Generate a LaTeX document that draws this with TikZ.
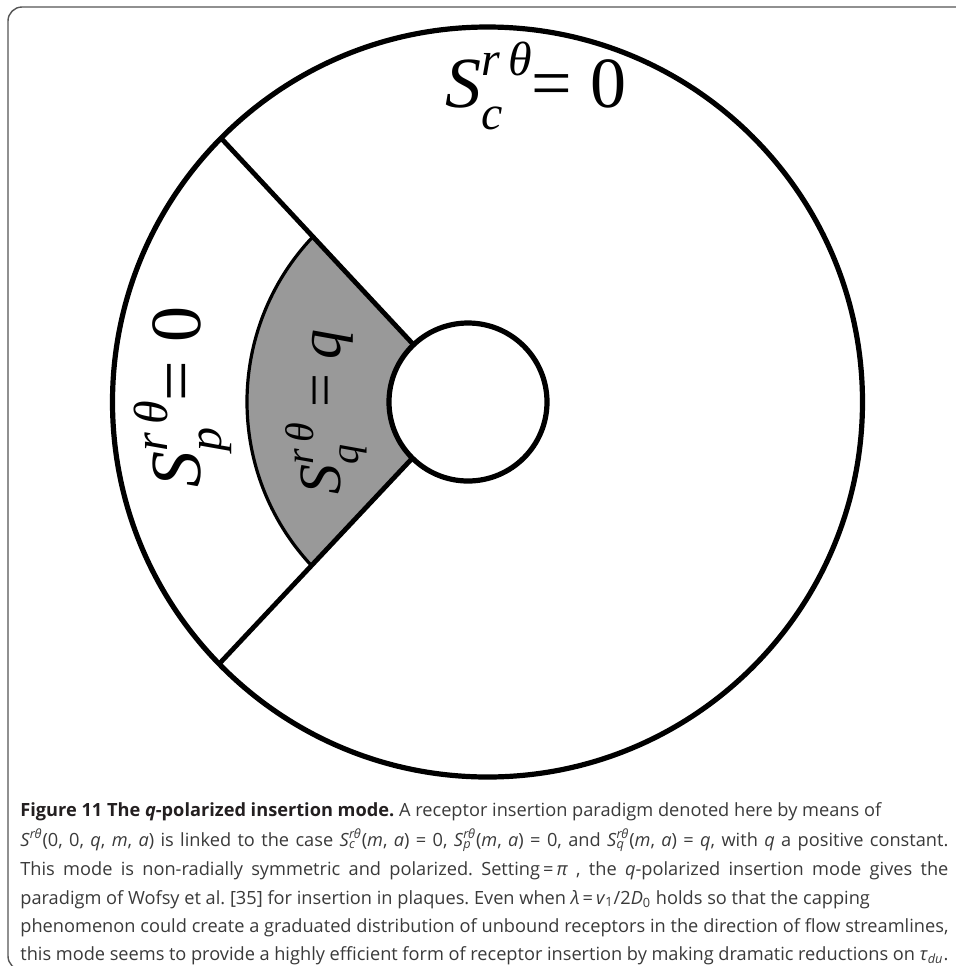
\documentclass[tikz,border=0pt]{standalone}
\usepackage{fontspec}
\setmainfont{Open Sans}
\newfontfamily\tms{Liberation Serif}
\frenchspacing
\definecolor{capgray}{HTML}{3A3A3A}
\definecolor{capdark}{HTML}{231F20}
\definecolor{fillgray}{HTML}{999999}
\definecolor{framegray}{HTML}{555555}
\newcommand\Srt[1]{\textit{S}\rlap{\textsubscript{\textit{#1}}}\textsuperscript{\textit{r}\kern-0.05em\textit{θ}}}
\newcommand\LabS[4]{{\fontsize{#1}{#1}\selectfont\tms{\itshape S}\rlap{\raisebox{-0.30em}{\fontsize{#2}{#2}\selectfont\itshape #3}}\raisebox{0.45em}{\fontsize{#2}{#2}\selectfont\itshape r\,θ}#4}}
\newcommand\Just[1]{\makebox[464pt][s]{#1}}
\begin{document}
\begin{tikzpicture}[x=0.5pt,y=0.5pt,
  ring/.style={line width=2.6pt},
  ray/.style={line width=2.4pt},
  capline/.style={anchor=base west,inner sep=0pt,text=capgray,font=\fontsize{9.1}{11}\selectfont},
  lab/.style={inner sep=0pt}]
\useasboundingbox (0,0) rectangle (956,-966);
\clip (0,0) rectangle (956,-966);
\fill[white] (0,0) rectangle (956,-966);
% frame
\draw[framegray,line width=0.7pt,rounded corners=7] (8,-7) rectangle (990,-970);
% gray sector
\fill[fillgray] (312.9,-236.7) arc[start angle=136.5,end angle=223,radius=240] -- (466,-401) -- cycle;
\draw[line width=1.6pt] (312.9,-236.7) arc[start angle=136.5,end angle=223,radius=240];
% rays
\coordinate (apex) at (466,-401);
\coordinate (tA) at (220,-137);
\coordinate (tB) at (220,-663);
\draw[ray] (tA) -- (apex);
\draw[ray] (tB) -- (apex);
% inner circle
\draw[ring,fill=white] (468,-402) circle[radius=79];
% outer circle
\draw[ring] (487.5,-402) circle[radius=375];
% labels
\node[lab] (lc) at (536,-86) {\LabS{36}{24}{c}{= 0}};
\node[lab,rotate=90] (lp) at (183,-397) {\LabS{36}{24}{p}{= 0}};
\node[lab,rotate=90] (lq) at (326,-412) {\LabS{30}{20}{q}{ = \textit{q}}};
% caption
\node[capline] (c1) at (20,-816) {{\color{capdark}\bfseries Figure 11 The \textit{q}-polarized insertion mode.} A receptor insertion paradigm denoted here by means of};
\node[capline] (c2) at (20,-846) {\Just{\Srt{}(0, 0, \textit{q}, \textit{m}, \textit{a}) is linked to the case \Srt{c}(\textit{m}, \textit{a}) = 0, \Srt{p}(\textit{m}, \textit{a}) = 0, and \Srt{q}(\textit{m}, \textit{a}) = \textit{q}, with \textit{q} a positive constant.}};
\node[capline] (c3) at (20,-875) {\Just{This mode is non-radially symmetric and polarized. Setting\,=\,\textit{π} , the \textit{q}-polarized insertion mode gives the}};
\node[capline] (c4) at (20,-904) {paradigm of Wofsy et al. [35] for insertion in plaques. Even when \textit{λ}\,=\,\textit{v}\textsubscript{1}/2\textit{D}\textsubscript{0} holds so that the capping};
\node[capline] (c5) at (20,-932) {\Just{phenomenon could create a graduated distribution of unbound receptors in the direction of flow streamlines,}};
\node[capline] (c6) at (20,-960) {\Just{this mode seems to provide a highly efficient form of receptor insertion by making dramatic reductions on \textit{τ}\textsubscript{\textit{du}}.}};
\end{tikzpicture}
\end{document}
